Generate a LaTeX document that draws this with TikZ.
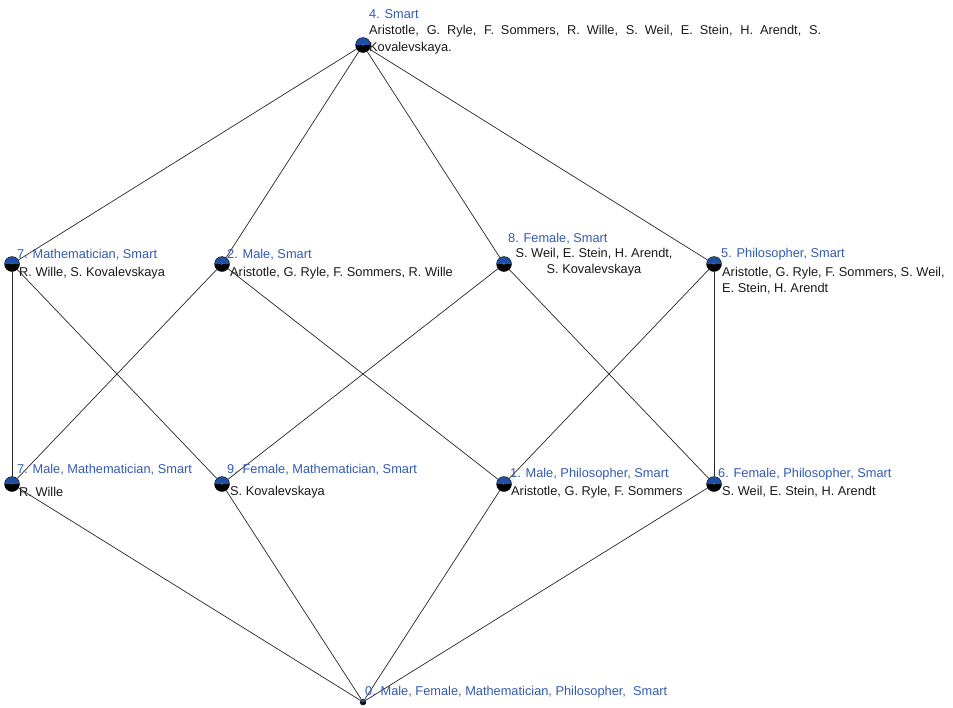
\documentclass[tikz,border=0pt]{standalone}
\usepackage{fontspec}
\setmainfont{Liberation Sans}
\definecolor{lblue}{RGB}{50,90,175}
\definecolor{cblue}{RGB}{30,80,165}
\begin{document}
\begin{tikzpicture}[x=1pt,y=-1pt,
  vtx/.style={circle,minimum size=15pt,inner sep=0,draw=black,line width=0.4pt,
    path picture={\fill[black](path picture bounding box.south west) rectangle (path picture bounding box.east);
                  \fill[cblue](path picture bounding box.west) rectangle (path picture bounding box.north east);},
    font=\fontsize{3}{3}\selectfont,text=white!70!black},
  small/.style={vtx,minimum size=6pt},
  edge/.style={line width=0.7pt,black!85},
  bl/.style={text=lblue,inner sep=0,anchor=base west,font=\fontsize{12.8}{16.5}\selectfont},
  tx/.style={text=black!90,inner sep=0,anchor=base west,font=\fontsize{12.8}{16.5}\selectfont}]
\useasboundingbox (0,0) rectangle (953,707);
% vertices
\node[vtx] (n4) at (363,45) {4};
\node[vtx] (n7a) at (12,264) {7};
\node[vtx] (n2) at (222,264) {2};
\node[vtx] (n8) at (504,264) {8};
\node[vtx] (n5) at (714,264) {5};
\node[vtx] (n7b) at (12,484) {7};
\node[vtx] (n9) at (222,484) {9};
\node[vtx] (n1) at (504,484) {1};
\node[vtx] (n6) at (714,484) {6};
\node[small] (n0) at (363,702) {};
% edges
\draw[edge] (n4) -- (n7a);
\draw[edge] (n4) -- (n2);
\draw[edge] (n4) -- (n8);
\draw[edge] (n4) -- (n5);
\draw[edge] (n7a) -- (n7b);
\draw[edge] (n7a) -- (n9);
\draw[edge] (n2) -- (n7b);
\draw[edge] (n2) -- (n1);
\draw[edge] (n8) -- (n9);
\draw[edge] (n8) -- (n6);
\draw[edge] (n5) -- (n1);
\draw[edge] (n5) -- (n6);
\draw[edge] (n7b) -- (n0);
\draw[edge] (n9) -- (n0);
\draw[edge] (n1) -- (n0);
\draw[edge] (n6) -- (n0);
% labels
\node[bl] (l4) at (369,18) {4. Smart};
\node[tx,anchor=north west,text width=452pt,align=justify] (t4) at (369,25.5) {Aristotle, G. Ryle, F. Sommers, R. Wille, S. Weil, E. Stein, H. Arendt, S. \mbox{Kovalevskaya.}};
\node[bl] (l7a) at (17,258) {7. Mathematician, Smart};
\node[tx] (t7a) at (19,276) {R. Wille, S. Kovalevskaya};
\node[bl] (l8) at (508,242) {8. Female, Smart};
\node[tx,anchor=north,align=center] (t8) at (594,248) {S. Weil, E. Stein, H. Arendt,\\S. Kovalevskaya};
\node[bl] (l2) at (227,258) {2. Male, Smart};
\node[tx] (t2) at (230,276) {Aristotle, G. Ryle, F. Sommers, R. Wille};
\node[bl] (l5) at (721,257) {5. Philosopher, Smart};
\node[tx,anchor=north west,align=left] (t5) at (722,267) {Aristotle, G. Ryle, F. Sommers, S. Weil,\\E. Stein, H. Arendt};
\node[bl] (l7b) at (17,473) {7. Male, Mathematician, Smart};
\node[tx] (t7b) at (19,496) {R. Wille};
\node[bl] (l9) at (227,473) {9. Female, Mathematician, Smart};
\node[tx] (t9) at (230,495) {S. Kovalevskaya};
\node[bl] (l1) at (510,477) {1. Male, Philosopher, Smart};
\node[tx] (t1) at (511,495) {Aristotle, G. Ryle, F. Sommers};
\node[bl] (l6) at (718,477) {6. Female, Philosopher, Smart};
\node[tx] (t6) at (722,495) {S. Weil, E. Stein, H. Arendt};
\node[bl] (l0) at (365,695) {0. Male, Female, Mathematician, Philosopher,\ \ Smart};
\end{tikzpicture}
\end{document}
